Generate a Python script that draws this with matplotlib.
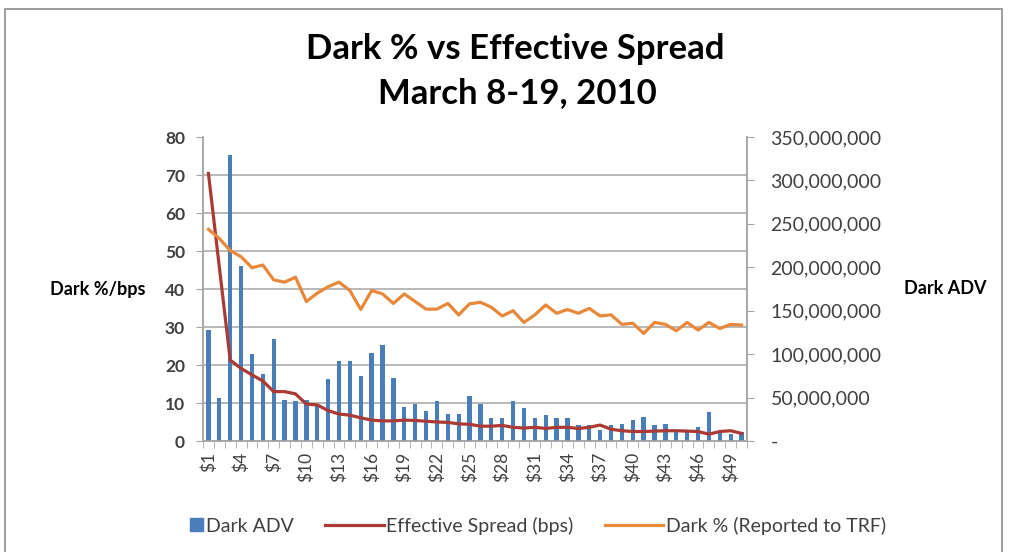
import numpy as np
import matplotlib
matplotlib.use("Agg")
import matplotlib.pyplot as plt
from matplotlib.ticker import MultipleLocator, FuncFormatter
from matplotlib.patches import Rectangle
from matplotlib.legend_handler import HandlerPatch

plt.rcParams['font.family'] = ['Lato', 'DejaVu Sans']

# price buckets $1 .. $50
cats = ["$%d" % i for i in range(1, 51)]

# Dark ADV (shares, right axis)
dark_adv = np.array([128, 50, 329, 201, 100, 77, 118, 47, 46, 47,
                     43, 71, 92, 92, 75, 101, 111, 73, 39, 43,
                     35, 46, 31, 31, 52, 43, 27, 27, 46, 38,
                     27, 30, 27, 27, 18, 18, 13, 18, 20, 24,
                     28, 18, 20, 11, 11, 16, 33, 10, 8, 10]) * 1e6

# Effective spread (bps, left axis)
eff_spread = [70.4, 45.8, 21.3, 19.1, 17.4, 15.8, 13.0, 13.0, 12.4, 9.7,
              9.5, 8.0, 7.1, 6.8, 6.1, 5.5, 5.3, 5.3, 5.5, 5.4,
              5.2, 5.0, 4.9, 4.5, 4.4, 3.9, 3.9, 4.1, 3.6, 3.4,
              3.6, 3.3, 3.6, 3.6, 3.3, 3.6, 4.2, 3.1, 2.7, 2.5,
              2.5, 2.6, 2.7, 2.7, 2.6, 2.5, 1.8, 2.5, 2.7, 2.0]

# Dark % reported to TRF (left axis)
dark_pct = [55.7, 53.3, 50.1, 48.5, 45.6, 46.3, 42.4, 41.8, 43.1, 36.7,
            38.9, 40.6, 41.8, 39.6, 34.6, 39.6, 38.7, 36.2, 38.7, 36.7,
            34.7, 34.7, 36.2, 33.2, 36.1, 36.5, 35.2, 32.9, 34.3, 31.2,
            33.2, 35.8, 33.6, 34.6, 33.6, 34.9, 32.9, 33.2, 30.7, 31.0,
            28.3, 31.2, 30.7, 29.0, 31.2, 29.2, 31.2, 29.6, 30.7, 30.5]

blue = "#4a7ebb"
red = "#aa3a33"
orange = "#e8883a"
txt = "#404040"


def square_handle(legend, orig_handle, xdescent, ydescent, width, height, fontsize):
    # small square at the right end of the handle box, like Excel's legend key
    s = height * 0.95
    return Rectangle((-xdescent + width - s, -ydescent + (height - s) / 2), s, s)


fig = plt.figure(figsize=(10.11, 5.52), dpi=100)
fig.patches.append(Rectangle((5 / 1011, -0.02), 997 / 1011, 1.02 - 9 / 552,
                             transform=fig.transFigure, fill=False,
                             edgecolor="#8c8c8c", lw=1.2))

ax = fig.add_axes([203 / 1011, 1 - 441 / 552, 544 / 1011, 304 / 552])
ax2 = ax.twinx()
x = np.arange(len(cats))

# bars on the base axes so they stay behind the lines
ax.bar(x, dark_adv, width=0.4, color=blue, zorder=3)
ax.set_ylim(0, 350e6)
ax.yaxis.set_major_locator(MultipleLocator(50e6))
ax.yaxis.set_minor_locator(MultipleLocator(350e6 / 8))
ax.grid(which="minor", axis="y", color="#a6a6a6", lw=1.1, zorder=0)
ax.yaxis.tick_right()
ax.yaxis.set_label_position("right")
ax.yaxis.set_major_formatter(FuncFormatter(lambda v, p: "-" if v == 0 else "{:,.0f}".format(v)))
ax.tick_params(axis="y", which="major", direction="out", length=5, color="#a6a6a6",
               labelsize=14, labelcolor=txt, pad=12)
ax.tick_params(axis="y", which="minor", length=0)
ax.set_ylabel("Dark ADV", rotation=0, fontsize=13, fontweight="bold", color="black",
              labelpad=16, va="center", ha="left")

l_eff, = ax2.plot(x, eff_spread, color=red, lw=2.3, zorder=4)
l_dark, = ax2.plot(x, dark_pct, color=orange, lw=2.3, zorder=4)
ax2.set_ylim(0, 80)
ax2.yaxis.set_major_locator(MultipleLocator(10))
ax2.yaxis.tick_left()
ax2.yaxis.set_label_position("left")
ax2.tick_params(axis="y", direction="out", length=5, color="#a6a6a6",
                labelsize=12.5, labelcolor=txt, pad=8)
for t in ax2.get_yticklabels():
    t.set_fontweight("bold")
ax2.set_ylabel("Dark %/bps", rotation=0, fontsize=13, fontweight="bold", color="black",
               labelpad=14, va="center", ha="right")

ax.set_xlim(-0.5, len(cats) - 0.5)
ax.set_xticks(x[::3])
ax.set_xticklabels(cats[::3], rotation=90)
ax.set_xticks(np.arange(-0.5, len(cats), 1), minor=True)
ax.tick_params(axis="x", which="major", length=0, labelsize=12.5, labelcolor=txt, pad=8)
ax.tick_params(axis="x", which="minor", length=5, color="#a6a6a6", direction="out")

for a in (ax, ax2):
    a.spines["top"].set_visible(False)
    for s in ("left", "right", "bottom"):
        a.spines[s].set_color("#a6a6a6")
        a.spines[s].set_linewidth(1.1)

fig.text(0.510, 0.912, "Dark % vs Effective Spread", ha="center", va="center",
         fontsize=25, fontweight="bold")
fig.text(0.512, 0.832, "March 8-19, 2010", ha="center", va="center",
         fontsize=25, fontweight="bold")

bar_key = Rectangle((0, 0), 1, 1, color=blue)
fig.legend([bar_key, l_eff, l_dark],
           ["Dark ADV", "Effective Spread (bps)", "Dark % (Reported to TRF)"],
           loc="center", bbox_to_anchor=(0.51, 0.048), ncol=3,
           frameon=False, fontsize=14, handlelength=3.0, columnspacing=1.6,
           handletextpad=0.15, labelcolor=txt,
           handler_map={Rectangle: HandlerPatch(patch_func=square_handle)})

fig.savefig("out.png", dpi=100)
